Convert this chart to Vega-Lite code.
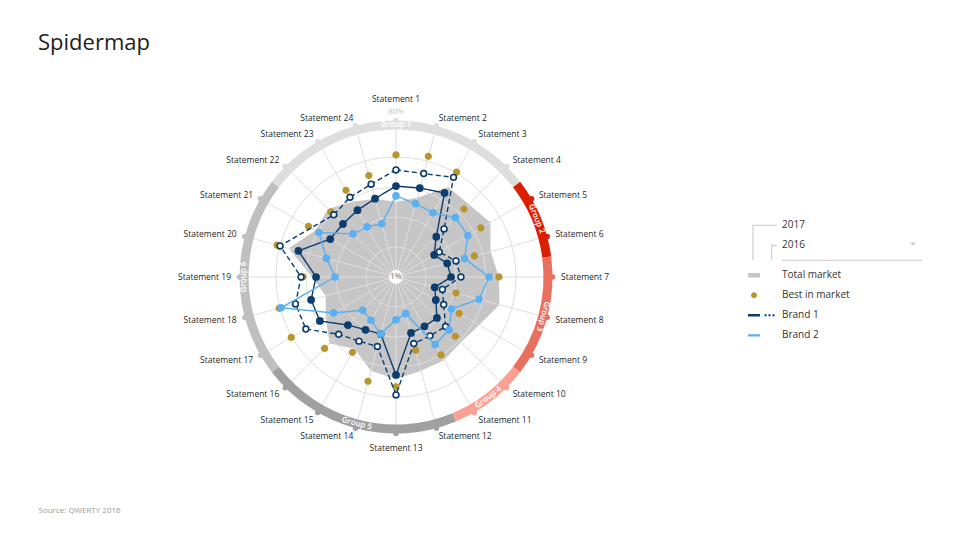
{
  "$schema": "https://vega.github.io/schema/vega-lite/v6.json",
  "width": 792,
  "height": 554,
  "autosize": "none",
  "padding": {"left": 0, "top": 0, "right": 168, "bottom": 0},
  "background": "white",
  "title": {"text": "Spidermap", "anchor": "start", "frame": "group", "offset": 0, "dx": 38, "dy": 72, "baseline": "alphabetic", "font": "Open Sans", "fontSize": 22, "fontWeight": "normal", "color": "#222222"},
  "config": {"view": {"stroke": null}, "font": "Open Sans"},
  "datasets": {
    "statements": [
      {"s": 1, "name": "Statement 1", "group": "Group 1", "total": 40.5, "best": 65.3, "b1_2017": 48.9, "b1_2016": 57.4, "b2": 43.7},
      {"s": 2, "name": "Statement 2", "group": "Group 1", "total": 44.2, "best": 66.8, "b1_2017": 49.5, "b1_2016": 57.4, "b2": 41.0},
      {"s": 3, "name": "Statement 3", "group": "Group 1", "total": 55.8, "best": 64.7, "b1_2017": 52.1, "b1_2016": 61.6, "b2": 40.0},
      {"s": 4, "name": "Statement 4", "group": "Group 1", "total": 55.2, "best": 51.6, "b1_2017": 31.0, "b1_2016": 36.8, "b2": 45.2},
      {"s": 5, "name": "Statement 5", "group": "Group 2", "total": 58.4, "best": 52.6, "b1_2017": 24.2, "b1_2016": 27.3, "b2": 44.7},
      {"s": 6, "name": "Statement 6", "group": "Group 2", "total": 52.6, "best": 43.7, "b1_2017": 28.9, "b1_2016": 33.7, "b2": 38.4},
      {"s": 7, "name": "Statement 7", "group": "Group 3", "total": 55.2, "best": 55.2, "b1_2017": 30.0, "b1_2016": 35.2, "b2": 50.0},
      {"s": 8, "name": "Statement 8", "group": "Group 3", "total": 57.4, "best": 33.7, "b1_2017": 22.1, "b1_2016": 26.3, "b2": 46.3},
      {"s": 9, "name": "Statement 9", "group": "Group 3", "total": 51.6, "best": 39.4, "b1_2017": 25.2, "b1_2016": 30.0, "b2": 34.7},
      {"s": 10, "name": "Statement 10", "group": "Group 4", "total": 49.5, "best": 45.2, "b1_2017": 31.5, "b1_2016": 37.9, "b2": 40.5},
      {"s": 11, "name": "Statement 11", "group": "Group 4", "total": 51.6, "best": 48.4, "b1_2017": 31.0, "b1_2016": 36.8, "b2": 42.1},
      {"s": 12, "name": "Statement 12", "group": "Group 5", "total": 52.1, "best": 41.0, "b1_2017": 31.5, "b1_2016": 37.3, "b2": 21.0},
      {"s": 13, "name": "Statement 13", "group": "Group 5", "total": 54.7, "best": 58.9, "b1_2017": 52.6, "b1_2016": 63.1, "b2": 23.6},
      {"s": 14, "name": "Statement 14", "group": "Group 5", "total": 52.1, "best": 57.9, "b1_2017": 32.1, "b1_2016": 38.9, "b2": 32.1},
      {"s": 15, "name": "Statement 15", "group": "Group 5", "total": 44.7, "best": 46.8, "b1_2017": 33.1, "b1_2016": 40.0, "b2": 27.3},
      {"s": 16, "name": "Statement 16", "group": "Group 5", "total": 50.5, "best": 54.2, "b1_2017": 36.8, "b1_2016": 43.7, "b2": 25.8},
      {"s": 17, "name": "Statement 17", "group": "Group 6", "total": 43.7, "best": 64.7, "b1_2017": 47.3, "b1_2016": 55.8, "b2": 38.9},
      {"s": 18, "name": "Statement 18", "group": "Group 6", "total": 39.4, "best": 64.7, "b1_2017": 47.3, "b1_2016": 55.8, "b2": 63.7},
      {"s": 19, "name": "Statement 19", "group": "Group 6", "total": 45.2, "best": 50.0, "b1_2017": 43.1, "b1_2016": 51.0, "b2": 33.1},
      {"s": 20, "name": "Statement 20", "group": "Group 6", "total": 59.5, "best": 65.8, "b1_2017": 54.2, "b1_2016": 64.2, "b2": 38.9},
      {"s": 21, "name": "Statement 21", "group": "Group 6", "total": 50.0, "best": 54.2, "b1_2017": 41.0, "b1_2016": null, "b2": 47.9},
      {"s": 22, "name": "Statement 22", "group": "Group 1", "total": 51.6, "best": 49.5, "b1_2017": 40.5, "b1_2016": 47.3, "b2": 33.1},
      {"s": 23, "name": "Statement 23", "group": "Group 1", "total": 46.8, "best": 53.7, "b1_2017": 41.6, "b1_2016": 49.5, "b2": 31.5},
      {"s": 24, "name": "Statement 24", "group": "Group 1", "total": 43.7, "best": 56.3, "b1_2017": 43.7, "b1_2016": 51.6, "b2": 30.0}
    ],
    "groups": [
      {"group": "Group 1", "start": -52.5, "end": 52.5},
      {"group": "Group 2", "start": 52.5, "end": 82.5},
      {"group": "Group 3", "start": 82.5, "end": 127.5},
      {"group": "Group 4", "start": 127.5, "end": 157.5},
      {"group": "Group 5", "start": 157.5, "end": 232.5},
      {"group": "Group 6", "start": 232.5, "end": 307.5}
    ],
    "levels": [{"level": 1}, {"level": 2}, {"level": 3}, {"level": 4}, {"level": 5}],
    "axislabels": [{"pct": 1, "label": "1%"}, {"pct": 80, "label": "80%"}]
  },
  "layer": [
    {
      "data": {"name": "statements"},
      "transform": [
        {"calculate": "(datum.s - 1) * PI / 12", "as": "th"},
        {"calculate": "(datum.total - 1) * 150 / 79 * sin(datum.th)", "as": "px"},
        {"calculate": "(datum.total - 1) * 150 / 79 * cos(datum.th)", "as": "py"}
      ],
      "mark": {"type": "line", "interpolate": "linear-closed", "fill": "#c6c6c6", "strokeWidth": 0},
      "encoding": {
        "x": {"field": "px", "type": "quantitative", "scale": {"domain": [-396, 396], "nice": false, "zero": false},
          "axis": {"title": "Source: QWERTY 2016", "labels": false, "ticks": false, "domain": false, "grid": false, "titleX": 38, "titleY": -42, "titleAlign": "left", "titleBaseline": "alphabetic", "titleFont": "Open Sans", "titleFontSize": 8, "titleFontWeight": "normal", "titleColor": "#9a9a9a"}},
        "y": {"field": "py", "type": "quantitative", "scale": {"domain": [-277, 277], "nice": false, "zero": false}, "axis": null},
        "order": {"field": "s", "type": "quantitative"},
        "color": {"datum": "Total market", "type": "nominal"}
      }
    },
    {
      "data": {"name": "levels"},
      "transform": [{"calculate": "0", "as": "px"}, {"calculate": "0", "as": "py"}],
      "mark": {"type": "point", "shape": "circle", "filled": false, "stroke": "#dedede", "strokeWidth": 1, "opacity": 1},
      "encoding": {
        "x": {"field": "px", "type": "quantitative", "scale": {"domain": [-396, 396], "nice": false, "zero": false},
          "axis": {"title": "Source: QWERTY 2016", "labels": false, "ticks": false, "domain": false, "grid": false, "titleX": 38, "titleY": -42, "titleAlign": "left", "titleBaseline": "alphabetic", "titleFont": "Open Sans", "titleFontSize": 8, "titleFontWeight": "normal", "titleColor": "#9a9a9a"}},
        "y": {"field": "py", "type": "quantitative", "scale": {"domain": [-277, 277], "nice": false, "zero": false}, "axis": null},
        "size": {"field": "level", "type": "quantitative", "legend": null, "scale": {"type": "pow", "exponent": 2, "domain": [0, 5], "range": [0, 90000]}}
      }
    },
    {
      "data": {"name": "statements"},
      "transform": [
        {"calculate": "(datum.s - 1) * PI / 12", "as": "th"},
        {"calculate": "0", "as": "px"},
        {"calculate": "0", "as": "py"},
        {"calculate": "150 * sin(datum.th)", "as": "ex"},
        {"calculate": "150 * cos(datum.th)", "as": "ey"}
      ],
      "mark": {"type": "rule", "stroke": "#dedede", "strokeWidth": 1},
      "encoding": {
        "x": {"field": "px", "type": "quantitative", "scale": {"domain": [-396, 396], "nice": false, "zero": false},
          "axis": {"title": "Source: QWERTY 2016", "labels": false, "ticks": false, "domain": false, "grid": false, "titleX": 38, "titleY": -42, "titleAlign": "left", "titleBaseline": "alphabetic", "titleFont": "Open Sans", "titleFontSize": 8, "titleFontWeight": "normal", "titleColor": "#9a9a9a"}},
        "y": {"field": "py", "type": "quantitative", "scale": {"domain": [-277, 277], "nice": false, "zero": false}, "axis": null},
        "x2": {"field": "ex"},
        "y2": {"field": "ey"}
      }
    },
    {
      "data": {"name": "groups"},
      "mark": {"type": "arc", "radius": 156.5, "radius2": 147.5},
      "encoding": {
        "theta": {"field": "start", "type": "quantitative", "scale": {"type": "linear", "domain": [0, 360], "range": [0, 6.283185307179586]}},
        "theta2": {"field": "end"},
        "fill": {"field": "group", "type": "nominal", "legend": null,
          "scale": {"domain": ["Group 1", "Group 2", "Group 3", "Group 4", "Group 5", "Group 6"], "range": ["#dedede", "#dc1f00", "#e9705f", "#fba193", "#a0a0a0", "#bfbfbf"]}}
      }
    },
    {
      "data": {"name": "statements"},
      "transform": [
        {"calculate": "(datum.s - 1) * PI / 12", "as": "th"},
        {"calculate": "156.5 * sin(datum.th)", "as": "px"},
        {"calculate": "156.5 * cos(datum.th)", "as": "py"}
      ],
      "mark": {"type": "circle", "size": 30, "opacity": 1},
      "encoding": {
        "x": {"field": "px", "type": "quantitative", "scale": {"domain": [-396, 396], "nice": false, "zero": false},
          "axis": {"title": "Source: QWERTY 2016", "labels": false, "ticks": false, "domain": false, "grid": false, "titleX": 38, "titleY": -42, "titleAlign": "left", "titleBaseline": "alphabetic", "titleFont": "Open Sans", "titleFontSize": 8, "titleFontWeight": "normal", "titleColor": "#9a9a9a"}},
        "y": {"field": "py", "type": "quantitative", "scale": {"domain": [-277, 277], "nice": false, "zero": false}, "axis": null},
        "fill": {"field": "group", "type": "nominal", "legend": null}
      }
    },
    {
      "data": {"name": "groups"},
      "transform": [
        {"calculate": "(datum.start + datum.end) / 2", "as": "mid"},
        {"calculate": "152 * sin(datum.mid * PI / 180)", "as": "px"},
        {"calculate": "152 * cos(datum.mid * PI / 180)", "as": "py"},
        {"calculate": "datum.mid > 120 && datum.mid < 250 ? datum.mid - 180 : (datum.mid >= 250 ? datum.mid - 360 : datum.mid)", "as": "ang"}
      ],
      "mark": {"type": "text", "align": "center", "baseline": "middle", "font": "Open Sans", "fontSize": 8, "fontWeight": 600, "color": "#ffffff"},
      "encoding": {
        "x": {"field": "px", "type": "quantitative", "scale": {"domain": [-396, 396], "nice": false, "zero": false},
          "axis": {"title": "Source: QWERTY 2016", "labels": false, "ticks": false, "domain": false, "grid": false, "titleX": 38, "titleY": -42, "titleAlign": "left", "titleBaseline": "alphabetic", "titleFont": "Open Sans", "titleFontSize": 8, "titleFontWeight": "normal", "titleColor": "#9a9a9a"}},
        "y": {"field": "py", "type": "quantitative", "scale": {"domain": [-277, 277], "nice": false, "zero": false}, "axis": null},
        "text": {"field": "group"},
        "angle": {"field": "ang", "type": "quantitative", "scale": {"domain": [0, 360], "range": [0, 360]}}
      }
    },
    {
      "data": {"name": "statements"},
      "transform": [
        {"filter": "datum.s > 1 && datum.s < 13"},
        {"calculate": "(datum.s - 1) * PI / 12", "as": "th"},
        {"calculate": "165 * sin(datum.th)", "as": "px"},
        {"calculate": "165 * cos(datum.th)", "as": "py"}
      ],
      "mark": {"type": "text", "align": "left", "baseline": "middle", "font": "Open Sans", "fontSize": 8.5, "color": "#1f1f1f"},
      "encoding": {
        "x": {"field": "px", "type": "quantitative", "scale": {"domain": [-396, 396], "nice": false, "zero": false},
          "axis": {"title": "Source: QWERTY 2016", "labels": false, "ticks": false, "domain": false, "grid": false, "titleX": 38, "titleY": -42, "titleAlign": "left", "titleBaseline": "alphabetic", "titleFont": "Open Sans", "titleFontSize": 8, "titleFontWeight": "normal", "titleColor": "#9a9a9a"}},
        "y": {"field": "py", "type": "quantitative", "scale": {"domain": [-277, 277], "nice": false, "zero": false}, "axis": null},
        "text": {"field": "name"}
      }
    },
    {
      "data": {"name": "statements"},
      "transform": [
        {"filter": "datum.s > 13"},
        {"calculate": "(datum.s - 1) * PI / 12", "as": "th"},
        {"calculate": "165 * sin(datum.th)", "as": "px"},
        {"calculate": "165 * cos(datum.th)", "as": "py"}
      ],
      "mark": {"type": "text", "align": "right", "baseline": "middle", "font": "Open Sans", "fontSize": 8.5, "color": "#1f1f1f"},
      "encoding": {
        "x": {"field": "px", "type": "quantitative", "scale": {"domain": [-396, 396], "nice": false, "zero": false},
          "axis": {"title": "Source: QWERTY 2016", "labels": false, "ticks": false, "domain": false, "grid": false, "titleX": 38, "titleY": -42, "titleAlign": "left", "titleBaseline": "alphabetic", "titleFont": "Open Sans", "titleFontSize": 8, "titleFontWeight": "normal", "titleColor": "#9a9a9a"}},
        "y": {"field": "py", "type": "quantitative", "scale": {"domain": [-277, 277], "nice": false, "zero": false}, "axis": null},
        "text": {"field": "name"}
      }
    },
    {
      "data": {"name": "statements"},
      "transform": [
        {"filter": "datum.s == 1 || datum.s == 13"},
        {"calculate": "(datum.s - 1) * PI / 12", "as": "th"},
        {"calculate": "datum.s == 1 ? 178 : 171", "as": "lr"},
        {"calculate": "datum.lr * sin(datum.th)", "as": "px"},
        {"calculate": "datum.lr * cos(datum.th)", "as": "py"}
      ],
      "mark": {"type": "text", "align": "center", "baseline": "middle", "font": "Open Sans", "fontSize": 8.5, "color": "#1f1f1f"},
      "encoding": {
        "x": {"field": "px", "type": "quantitative", "scale": {"domain": [-396, 396], "nice": false, "zero": false},
          "axis": {"title": "Source: QWERTY 2016", "labels": false, "ticks": false, "domain": false, "grid": false, "titleX": 38, "titleY": -42, "titleAlign": "left", "titleBaseline": "alphabetic", "titleFont": "Open Sans", "titleFontSize": 8, "titleFontWeight": "normal", "titleColor": "#9a9a9a"}},
        "y": {"field": "py", "type": "quantitative", "scale": {"domain": [-277, 277], "nice": false, "zero": false}, "axis": null},
        "text": {"field": "name"}
      }
    },
    {
      "data": {"name": "statements"},
      "transform": [
        {"calculate": "(datum.s - 1) * PI / 12", "as": "th"},
        {"calculate": "(datum.best - 1) * 150 / 79 * sin(datum.th)", "as": "px"},
        {"calculate": "(datum.best - 1) * 150 / 79 * cos(datum.th)", "as": "py"}
      ],
      "mark": {"type": "point", "filled": true, "size": 148, "opacity": 1, "strokeWidth": 0},
      "encoding": {
        "x": {"field": "px", "type": "quantitative", "scale": {"domain": [-396, 396], "nice": false, "zero": false},
          "axis": {"title": "Source: QWERTY 2016", "labels": false, "ticks": false, "domain": false, "grid": false, "titleX": 38, "titleY": -42, "titleAlign": "left", "titleBaseline": "alphabetic", "titleFont": "Open Sans", "titleFontSize": 8, "titleFontWeight": "normal", "titleColor": "#9a9a9a"}},
        "y": {"field": "py", "type": "quantitative", "scale": {"domain": [-277, 277], "nice": false, "zero": false}, "axis": null},
        "color": {
          "datum": "Best in market", "type": "nominal",
          "scale": {
            "domain": ["b1_2017", "b1_2016", "Total market", "Best in market", "Brand 1", "Brand 2"],
            "range": ["#d2d2d2", "#d2d2d2", "#c6c6c6", "#b8962e", "#0b3d6e", "#5ab0f0"]
          },
          "legend": {
            "title": null, "orient": "none", "legendX": 749, "legendY": 220.3,
            "symbolSize": 100, "symbolStrokeWidth": 0, "symbolOpacity": 1,
            "labelOffset": 23, "rowPadding": 0, "labelLimit": 200,
            "labelFont": "Open Sans", "labelFontSize": 10, "labelColor": "#333333", "labelBaseline": "middle",
            "labelExpr": "datum.value === 'b1_2017' ? '2017' : datum.value === 'b1_2016' ? '2016' : datum.label"
          }
        },
        "shape": {
          "datum": "Best in market", "type": "nominal",
          "scale": {
            "domain": ["b1_2017", "b1_2016", "Total market", "Best in market", "Brand 1", "Brand 2"],
            "range": [
              "M-0.33,-0.13H4.6V0.13H-0.07V1.98H-0.33Z",
              "M-0.33,-1.98H-0.07V3.0H-0.33Z M3.4,-0.13H4.6V0.13H3.66V3.0H3.4Z M5.6,2.87H33.6V3.13H5.6Z M31.2,-0.55H32.4L31.8,0.15Z M0,0L0,3.82",
              "M-1.2,-0.45H1.2V0.45H-1.2Z M0,-1.98L0,1.98",
              "M-0.6,0A0.6,0.6 0 1,1 0.6,0A0.6,0.6 0 1,1 -0.6,0Z M0,-1.98L0,1.98",
              "M-1.2,-0.25H1.2V0.25H-1.2Z M2.1,-0.2H2.5V0.2H2.1Z M2.9,-0.2H3.3V0.2H2.9Z M3.7,-0.2H4.1V0.2H3.7Z M0,-1.98L0,1.98",
              "M-1.2,-0.22H1.2V0.22H-1.2Z M0,-1.98L0,1.98"
            ]
          },
          "legend": {
            "title": null, "orient": "none", "legendX": 749, "legendY": 220.3,
            "symbolSize": 100, "symbolStrokeWidth": 0, "symbolOpacity": 1,
            "labelOffset": 23, "rowPadding": 0, "labelLimit": 200,
            "labelFont": "Open Sans", "labelFontSize": 10, "labelColor": "#333333", "labelBaseline": "middle",
            "labelExpr": "datum.value === 'b1_2017' ? '2017' : datum.value === 'b1_2016' ? '2016' : datum.label"
          }
        }
      }
    },
    {
      "data": {"name": "statements"},
      "transform": [
        {"fold": ["b1_2017", "b1_2016"], "as": ["year", "v"]},
        {"filter": "isValid(datum.v)"},
        {"calculate": "(datum.s - 1) * PI / 12", "as": "th"},
        {"calculate": "(datum.v - 1) * 150 / 79 * sin(datum.th)", "as": "px"},
        {"calculate": "(datum.v - 1) * 150 / 79 * cos(datum.th)", "as": "py"}
      ],
      "mark": {"type": "line", "interpolate": "linear-closed", "strokeWidth": 1.4},
      "encoding": {
        "x": {"field": "px", "type": "quantitative", "scale": {"domain": [-396, 396], "nice": false, "zero": false},
          "axis": {"title": "Source: QWERTY 2016", "labels": false, "ticks": false, "domain": false, "grid": false, "titleX": 38, "titleY": -42, "titleAlign": "left", "titleBaseline": "alphabetic", "titleFont": "Open Sans", "titleFontSize": 8, "titleFontWeight": "normal", "titleColor": "#9a9a9a"}},
        "y": {"field": "py", "type": "quantitative", "scale": {"domain": [-277, 277], "nice": false, "zero": false}, "axis": null},
        "order": {"field": "s", "type": "quantitative"},
        "color": {"datum": "Brand 1", "type": "nominal"},
        "strokeDash": {"field": "year", "type": "nominal", "legend": null, "scale": {"domain": ["b1_2017", "b1_2016"], "range": [[1, 0], [5, 3]]}}
      }
    },
    {
      "data": {"name": "statements"},
      "transform": [
        {"filter": "isValid(datum.b1_2016)"},
        {"calculate": "(datum.s - 1) * PI / 12", "as": "th"},
        {"calculate": "(datum.b1_2016 - 1) * 150 / 79 * sin(datum.th)", "as": "px"},
        {"calculate": "(datum.b1_2016 - 1) * 150 / 79 * cos(datum.th)", "as": "py"}
      ],
      "mark": {"type": "point", "shape": "circle", "filled": true, "fill": "#ffffff", "stroke": "#0b3d6e", "strokeWidth": 1.6, "size": 34, "opacity": 1},
      "encoding": {
        "x": {"field": "px", "type": "quantitative", "scale": {"domain": [-396, 396], "nice": false, "zero": false},
          "axis": {"title": "Source: QWERTY 2016", "labels": false, "ticks": false, "domain": false, "grid": false, "titleX": 38, "titleY": -42, "titleAlign": "left", "titleBaseline": "alphabetic", "titleFont": "Open Sans", "titleFontSize": 8, "titleFontWeight": "normal", "titleColor": "#9a9a9a"}},
        "y": {"field": "py", "type": "quantitative", "scale": {"domain": [-277, 277], "nice": false, "zero": false}, "axis": null}
      }
    },
    {
      "data": {"name": "statements"},
      "transform": [
        {"calculate": "(datum.s - 1) * PI / 12", "as": "th"},
        {"calculate": "(datum.b1_2017 - 1) * 150 / 79 * sin(datum.th)", "as": "px"},
        {"calculate": "(datum.b1_2017 - 1) * 150 / 79 * cos(datum.th)", "as": "py"}
      ],
      "mark": {"type": "circle", "size": 60, "opacity": 1},
      "encoding": {
        "x": {"field": "px", "type": "quantitative", "scale": {"domain": [-396, 396], "nice": false, "zero": false},
          "axis": {"title": "Source: QWERTY 2016", "labels": false, "ticks": false, "domain": false, "grid": false, "titleX": 38, "titleY": -42, "titleAlign": "left", "titleBaseline": "alphabetic", "titleFont": "Open Sans", "titleFontSize": 8, "titleFontWeight": "normal", "titleColor": "#9a9a9a"}},
        "y": {"field": "py", "type": "quantitative", "scale": {"domain": [-277, 277], "nice": false, "zero": false}, "axis": null},
        "color": {"datum": "Brand 1", "type": "nominal"}
      }
    },
    {
      "data": {"name": "statements"},
      "transform": [
        {"calculate": "(datum.s - 1) * PI / 12", "as": "th"},
        {"calculate": "(datum.b2 - 1) * 150 / 79 * sin(datum.th)", "as": "px"},
        {"calculate": "(datum.b2 - 1) * 150 / 79 * cos(datum.th)", "as": "py"}
      ],
      "mark": {"type": "line", "interpolate": "linear-closed", "strokeWidth": 1.4},
      "encoding": {
        "x": {"field": "px", "type": "quantitative", "scale": {"domain": [-396, 396], "nice": false, "zero": false},
          "axis": {"title": "Source: QWERTY 2016", "labels": false, "ticks": false, "domain": false, "grid": false, "titleX": 38, "titleY": -42, "titleAlign": "left", "titleBaseline": "alphabetic", "titleFont": "Open Sans", "titleFontSize": 8, "titleFontWeight": "normal", "titleColor": "#9a9a9a"}},
        "y": {"field": "py", "type": "quantitative", "scale": {"domain": [-277, 277], "nice": false, "zero": false}, "axis": null},
        "order": {"field": "s", "type": "quantitative"},
        "color": {"datum": "Brand 2", "type": "nominal"}
      }
    },
    {
      "data": {"name": "statements"},
      "transform": [
        {"calculate": "(datum.s - 1) * PI / 12", "as": "th"},
        {"calculate": "(datum.b2 - 1) * 150 / 79 * sin(datum.th)", "as": "px"},
        {"calculate": "(datum.b2 - 1) * 150 / 79 * cos(datum.th)", "as": "py"}
      ],
      "mark": {"type": "circle", "size": 58, "opacity": 1},
      "encoding": {
        "x": {"field": "px", "type": "quantitative", "scale": {"domain": [-396, 396], "nice": false, "zero": false},
          "axis": {"title": "Source: QWERTY 2016", "labels": false, "ticks": false, "domain": false, "grid": false, "titleX": 38, "titleY": -42, "titleAlign": "left", "titleBaseline": "alphabetic", "titleFont": "Open Sans", "titleFontSize": 8, "titleFontWeight": "normal", "titleColor": "#9a9a9a"}},
        "y": {"field": "py", "type": "quantitative", "scale": {"domain": [-277, 277], "nice": false, "zero": false}, "axis": null},
        "color": {"datum": "Brand 2", "type": "nominal"}
      }
    },
    {
      "data": {"name": "axislabels"},
      "transform": [
        {"filter": "datum.pct == 1"},
        {"calculate": "(datum.pct - 1) * 150 / 79", "as": "py"},
        {"calculate": "0", "as": "px"}
      ],
      "mark": {"type": "circle", "size": 190, "fill": "#ffffff", "opacity": 1},
      "encoding": {
        "x": {"field": "px", "type": "quantitative", "scale": {"domain": [-396, 396], "nice": false, "zero": false},
          "axis": {"title": "Source: QWERTY 2016", "labels": false, "ticks": false, "domain": false, "grid": false, "titleX": 38, "titleY": -42, "titleAlign": "left", "titleBaseline": "alphabetic", "titleFont": "Open Sans", "titleFontSize": 8, "titleFontWeight": "normal", "titleColor": "#9a9a9a"}},
        "y": {"field": "py", "type": "quantitative", "scale": {"domain": [-277, 277], "nice": false, "zero": false}, "axis": null}
      }
    },
    {
      "data": {"name": "axislabels"},
      "transform": [
        {"filter": "datum.pct == 1"},
        {"calculate": "(datum.pct - 1) * 150 / 79", "as": "py"},
        {"calculate": "0", "as": "px"}
      ],
      "mark": {"type": "text", "align": "center", "baseline": "middle", "font": "Open Sans", "fontSize": 8, "fontWeight": "bold", "color": "#a8a8a8"},
      "encoding": {
        "x": {"field": "px", "type": "quantitative", "scale": {"domain": [-396, 396], "nice": false, "zero": false},
          "axis": {"title": "Source: QWERTY 2016", "labels": false, "ticks": false, "domain": false, "grid": false, "titleX": 38, "titleY": -42, "titleAlign": "left", "titleBaseline": "alphabetic", "titleFont": "Open Sans", "titleFontSize": 8, "titleFontWeight": "normal", "titleColor": "#9a9a9a"}},
        "y": {"field": "py", "type": "quantitative", "scale": {"domain": [-277, 277], "nice": false, "zero": false}, "axis": null},
        "text": {"field": "label"}
      }
    },
    {
      "data": {"name": "axislabels"},
      "transform": [
        {"filter": "datum.pct == 80"},
        {"calculate": "(datum.pct - 1) * 150 / 79", "as": "py"},
        {"calculate": "0", "as": "px"}
      ],
      "mark": {"type": "text", "align": "center", "baseline": "middle", "dy": -15, "font": "Open Sans", "fontSize": 8, "color": "#c4c4c4"},
      "encoding": {
        "x": {"field": "px", "type": "quantitative", "scale": {"domain": [-396, 396], "nice": false, "zero": false},
          "axis": {"title": "Source: QWERTY 2016", "labels": false, "ticks": false, "domain": false, "grid": false, "titleX": 38, "titleY": -42, "titleAlign": "left", "titleBaseline": "alphabetic", "titleFont": "Open Sans", "titleFontSize": 8, "titleFontWeight": "normal", "titleColor": "#9a9a9a"}},
        "y": {"field": "py", "type": "quantitative", "scale": {"domain": [-277, 277], "nice": false, "zero": false}, "axis": null},
        "text": {"field": "label"}
      }
    }
  ]
}
